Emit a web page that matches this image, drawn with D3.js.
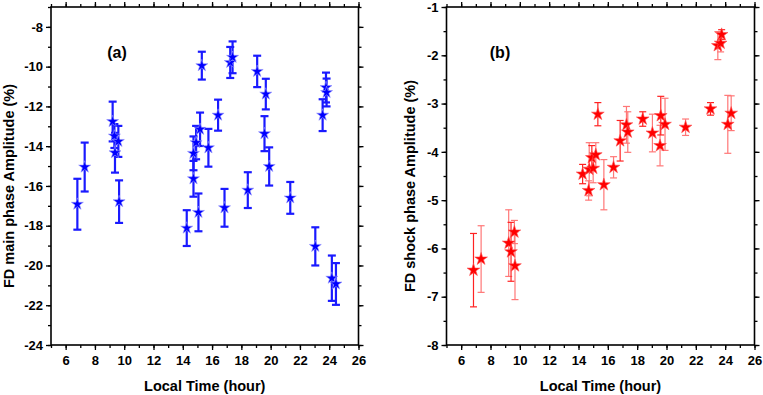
<!DOCTYPE html>
<html>
<head>
<meta charset="utf-8">
<script src="https://cdn.jsdelivr.net/npm/d3@7"></script>
<style>
  body { margin: 0; background: #fff; }
  text { font-family: "Liberation Sans", Arial, sans-serif; font-weight: bold; fill: #000; }
</style>
</head>
<body>
<script>
// panel (a): FD main phase
var mainTime = [6.80, 7.30, 9.21, 9.33, 9.37, 9.60, 9.65, 14.27, 14.73, 14.73, 14.91, 15.07, 15.18, 15.30, 15.75, 16.41,
  16.85, 17.24, 17.40, 18.44, 19.08, 19.58, 19.67, 19.90, 21.34, 23.05, 23.55, 23.78, 23.82, 24.18, 24.46];
var mainAmp = [-16.92, -15.05, -12.76, -13.49, -14.33, -13.76, -16.79, -18.12, -14.36, -15.64, -13.82, -17.33, -13.15, -9.95, -14.08, -12.44,
  -17.10, -9.79, -9.53, -16.21, -10.24, -13.37, -11.38, -15.02, -16.60, -19.04, -12.44, -11.05, -11.30, -20.64, -20.93];
var mainErr = [1.28, 1.23, 1.00, 0.60, 1.00, 0.78, 1.07, 0.90, 0.85, 0.90, 0.84, 0.95, 0.84, 0.70, 0.95, 0.78,
  0.95, 0.78, 0.80, 0.90, 0.79, 0.88, 0.77, 0.96, 0.80, 0.96, 0.80, 0.75, 0.70, 1.14, 1.05];

// panel (b): FD shock phase
var shockTime = [6.84, 7.36, 9.24, 9.40, 9.63, 9.67, 14.28, 14.69, 14.73, 14.91, 15.00, 15.18, 15.32, 15.73, 16.39, 16.84,
  17.27, 17.36, 18.38, 19.04, 19.56, 19.61, 19.90, 21.30, 23.00, 23.50, 23.69, 23.76, 24.18, 24.41];
var shockAmp = [-6.45, -6.22, -5.89, -6.07, -5.66, -6.36, -4.46, -4.80, -4.36, -4.12, -4.34, -4.06, -3.22, -4.68, -4.32, -3.77,
  -3.44, -3.59, -3.32, -3.61, -3.87, -3.25, -3.43, -3.49, -3.11, -1.80, -1.75, -1.57, -3.43, -3.20];
var shockErr = [0.76, 0.69, 0.69, 0.61, 0.24, 0.70, 0.20, 0.20, 0.55, 0.25, 0.30, 0.25, 0.24, 0.52, 0.22, 0.42,
  0.38, 0.42, 0.15, 0.39, 0.42, 0.40, 0.54, 0.17, 0.13, 0.29, 0.18, 0.10, 0.60, 0.36];

var xTicks = [6, 8, 10, 12, 14, 16, 18, 20, 22, 24, 26];
var mainTicks = [-24, -22, -20, -18, -16, -14, -12, -10, -8];
var shockTicks = [-8, -7, -6, -5, -4, -3, -2, -1];

var svg = d3.select("body").append("svg")
  .attr("width", 763)
  .attr("height", 395);

function drawPanel(opt) {
  var x = d3.scaleLinear().domain([5, 26]).range([opt.left, opt.right]);
  var y = d3.scaleLinear().domain(opt.yDomain).range([345, 7]);
  var g = svg.append("g");

  // minor ticks
  var xMinor = d3.range(5, 27, 1);
  var yMinor = d3.range(opt.yDomain[0], opt.yDomain[1] + 0.001, opt.yMinorStep);

  g.append("g").attr("transform", "translate(0,345)")
    .call(d3.axisBottom(x).tickValues(xMinor).tickSize(3).tickFormat(""));
  g.append("g").attr("transform", "translate(0,7)")
    .call(d3.axisTop(x).tickValues(xMinor).tickSize(3).tickFormat(""));
  g.append("g").attr("transform", "translate(" + opt.left + ",0)")
    .call(d3.axisLeft(y).tickValues(yMinor).tickSize(3).tickFormat(""));
  g.append("g").attr("transform", "translate(" + opt.right + ",0)")
    .call(d3.axisRight(y).tickValues(yMinor).tickSize(3).tickFormat(""));

  // major ticks
  g.append("g").attr("transform", "translate(0,345)")
    .call(d3.axisBottom(x).tickValues(xTicks).tickSize(5).tickPadding(6));
  g.append("g").attr("transform", "translate(0,7)")
    .call(d3.axisTop(x).tickValues(xTicks).tickSize(5).tickFormat(""));
  g.append("g").attr("transform", "translate(" + opt.left + ",0)")
    .call(d3.axisLeft(y).tickValues(opt.yTicks).tickSize(5).tickPadding(3).tickFormat(d3.format("d")));
  g.append("g").attr("transform", "translate(" + opt.right + ",0)")
    .call(d3.axisRight(y).tickValues(opt.yTicks).tickSize(5).tickFormat(""));

  g.selectAll(".domain").remove();
  g.selectAll(".tick line").attr("stroke", "#000").attr("stroke-width", 1.3);
  g.selectAll(".tick text").style("font-size", "13px").style("font-weight", "bold")
    .attr("fill", "#000").text(function () { return this.textContent.replace("\u2212", "-"); });

  // frame
  g.append("rect")
    .attr("x", opt.left).attr("y", 7)
    .attr("width", opt.right - opt.left).attr("height", 338)
    .attr("fill", "none").attr("stroke", "#000").attr("stroke-width", 1.6);

  // error bars
  var bars = g.append("g");
  opt.t.forEach(function (t, i) {
    var cx = x(t), y0 = y(opt.v[i] + opt.e[i]), y1 = y(opt.v[i] - opt.e[i]);
    var col = opt.barColor(i);
    bars.append("line").attr("x1", cx).attr("x2", cx).attr("y1", y0).attr("y2", y1)
      .attr("stroke", col).attr("stroke-width", opt.barWidth);
    [y0, y1].forEach(function (yy) {
      bars.append("line").attr("x1", cx - opt.cap).attr("x2", cx + opt.cap).attr("y1", yy).attr("y2", yy)
        .attr("stroke", col).attr("stroke-width", opt.barWidth);
    });
  });

  // star markers
  g.append("g").selectAll("path")
    .data(opt.t)
    .enter()
    .append("path")
    .attr("transform", function (d, i) { return "translate(" + x(d) + "," + y(opt.v[i]) + ")"; })
    .attr("d", d3.symbol().type(d3.symbolStar).size(opt.starSize))
    .attr("fill", opt.starFill)
    .attr("stroke", opt.starStroke)
    .attr("stroke-width", 0.6);

  // labels
  g.append("text").attr("x", opt.labelX).attr("y", 58).attr("text-anchor", "middle")
    .style("font-size", "16px").text(opt.label);
  g.append("text").attr("x", (opt.left + opt.right) / 2).attr("y", 391).attr("text-anchor", "middle")
    .style("font-size", "14.5px").text("Local Time (hour)");
  g.append("text")
    .attr("transform", "translate(" + opt.titleX + "," + 186 + ") rotate(-90)")
    .attr("text-anchor", "middle")
    .style("font-size", "14.5px").text(opt.yTitle);
}

drawPanel({
  left: 51, right: 358.5,
  yDomain: [-24, -7], yTicks: mainTicks, yMinorStep: 1,
  t: mainTime, v: mainAmp, e: mainErr,
  barColor: function () { return "#1a1aff"; }, barWidth: 2.2, cap: 4,
  starSize: 45, starFill: "#0000ff", starStroke: "#9a9aff",
  label: "(a)", labelX: 117,
  yTitle: "FD main phase Amplitude (%)", titleX: 14
});

drawPanel({
  left: 446.5, right: 754.5,
  yDomain: [-8, -1], yTicks: shockTicks, yMinorStep: 0.5,
  t: shockTime, v: shockAmp, e: shockErr,
  barColor: function (i) { return i % 3 === 0 ? "#f22" : "#f77"; }, barWidth: 1.2, cap: 3.5,
  starSize: 50, starFill: "#ff0000", starStroke: "#ff5050",
  label: "(b)", labelX: 500,
  yTitle: "FD shock phase Amplitude (%)", titleX: 415
});
</script>
</body>
</html>
